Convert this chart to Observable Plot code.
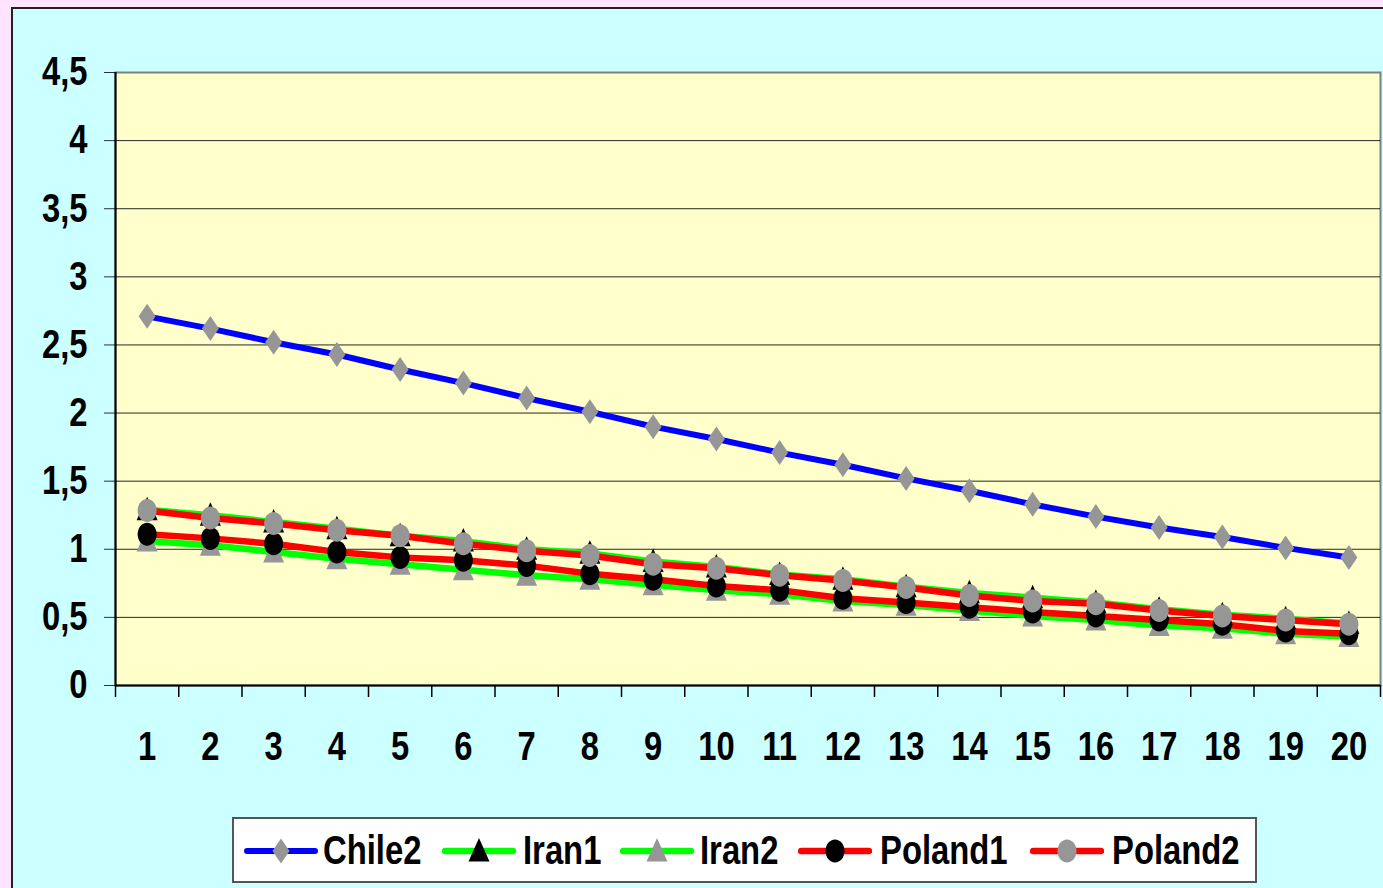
<!DOCTYPE html>
<html>
<head>
<meta charset="utf-8">
<script src="https://cdn.jsdelivr.net/npm/d3@7"></script>
<script src="https://cdn.jsdelivr.net/npm/@observablehq/plot@0.6"></script>
<style>
html, body { margin: 0; padding: 0; }
body {
  width: 1383px; height: 888px; background: #FFE3FF; position: relative; overflow: hidden;
  font-family: "Liberation Sans", Arial, sans-serif; font-weight: bold;
}
#frame {
  position: absolute; left: 11px; top: 7px; width: 1400px; height: 900px;
  background: #CCFFFF; border-left: 2px solid #222; border-top: 2px solid #222;
}
#chart { position: absolute; left: 0; top: 0; }
#legend {
  position: absolute; left: 232px; top: 817px; width: 1025px; height: 66px;
  background: #fff; border: 2px solid #555; box-sizing: border-box;
}
.sample { position: absolute; top: 16px; display: block; }
.label {
  position: absolute; top: 13px; font-size: 40px; line-height: 36px; color: #000;
  transform: scaleX(0.82); transform-origin: 0 50%; white-space: nowrap;
}
</style>
</head>
<body>
<div id="frame"></div>
<div id="chart"></div>
<div id="legend"></div>
<script>
// ---- data ----
const categories = [1, 2, 3, 4, 5, 6, 7, 8, 9, 10, 11, 12, 13, 14, 15, 16, 17, 18, 19, 20];
const categoryLabels = ["1","2","3","4","5","6","7","8","9","10","11","12","13","14","15","16","17","18","19","20"];
const categoryBoundaries = [0.5, 1.5, 2.5, 3.5, 4.5, 5.5, 6.5, 7.5, 8.5, 9.5, 10.5, 11.5, 12.5, 13.5, 14.5, 15.5, 16.5, 17.5, 18.5, 19.5, 20.5];
const yTicks = [0, 0.5, 1, 1.5, 2, 2.5, 3, 3.5, 4, 4.5];
const yTickLabels = ["0", "0,5", "1", "1,5", "2", "2,5", "3", "3,5", "4", "4,5"];

const seriesNames = ["Chile2", "Iran1", "Iran2", "Poland1", "Poland2"];
const chile2  = [2.71, 2.62, 2.52, 2.43, 2.32, 2.22, 2.11, 2.01, 1.90, 1.81, 1.71, 1.62, 1.52, 1.43, 1.33, 1.24, 1.16, 1.09, 1.01, 0.94];
const iran1   = [1.29, 1.25, 1.20, 1.15, 1.10, 1.06, 1.00, 0.97, 0.91, 0.87, 0.815, 0.78, 0.725, 0.68, 0.645, 0.61, 0.56, 0.52, 0.49, 0.455];
const iran2   = [1.06, 1.03, 0.98, 0.93, 0.89, 0.85, 0.81, 0.78, 0.74, 0.70, 0.67, 0.62, 0.59, 0.55, 0.51, 0.48, 0.44, 0.42, 0.38, 0.36];
const poland1 = [1.11, 1.08, 1.04, 0.98, 0.94, 0.92, 0.88, 0.82, 0.78, 0.73, 0.70, 0.64, 0.61, 0.575, 0.54, 0.51, 0.48, 0.45, 0.40, 0.38];
const poland2 = [1.285, 1.23, 1.19, 1.14, 1.10, 1.04, 0.99, 0.955, 0.89, 0.86, 0.81, 0.77, 0.72, 0.66, 0.62, 0.60, 0.55, 0.51, 0.48, 0.45];

// ---- marker shapes (Excel-like) ----
const tallDiamond = { draw(c) { c.moveTo(0, -12.5); c.lineTo(8.5, 0); c.lineTo(0, 12.5); c.lineTo(-8.5, 0); c.closePath(); } };
const triangle = { draw(c) { c.moveTo(0, -13); c.lineTo(10.5, 10.5); c.lineTo(-10.5, 10.5); c.closePath(); } };
const ellipse = { draw(c) {
  const rx = 9.5, ry = 11.5, k = 0.5523;
  c.moveTo(0, -ry);
  c.bezierCurveTo(rx * k, -ry, rx, -ry * k, rx, 0);
  c.bezierCurveTo(rx, ry * k, rx * k, ry, 0, ry);
  c.bezierCurveTo(-rx * k, ry, -rx, ry * k, -rx, 0);
  c.bezierCurveTo(-rx, -ry * k, -rx * k, -ry, 0, -ry);
  c.closePath();
} };

const series = [
  { name: "Chile2",  values: chile2,  line: "#0000FF", width: 6,   marker: tallDiamond, fill: "#969696", sx: 244, tx: 323 },
  { name: "Iran1",   values: iran1,   line: "#00FF00", width: 6.5, marker: triangle,    fill: "#000000", sx: 442, tx: 523 },
  { name: "Iran2",   values: iran2,   line: "#00FF00", width: 6.5, marker: triangle,    fill: "#969696", sx: 620, tx: 700 },
  { name: "Poland1", values: poland1, line: "#FF0000", width: 6.5, marker: ellipse,     fill: "#000000", sx: 798, tx: 880 },
  { name: "Poland2", values: poland2, line: "#FF0000", width: 6.5, marker: ellipse,     fill: "#969696", sx: 1030, tx: 1112 }
];
const rows = s => s.values.map((v, i) => ({ x: categories[i], y: v, series: s.name }));

const font = '"Liberation Sans", Arial, sans-serif';

const chart = Plot.plot({
  width: 1383,
  height: 800,
  marginLeft: 115,
  marginRight: 3,
  marginTop: 72,
  marginBottom: 115,
  x: { domain: [0.5, 20.5], axis: null, label: null },
  y: { domain: [0, 4.5], axis: null, label: null },
  style: { background: "transparent", fontFamily: font, fontWeight: "bold", fontSize: "40px", color: "#000", overflow: "visible" },
  marks: [
    Plot.frame({ fill: "#FFFFCC", stroke: "#808080", strokeWidth: 2 }),
    Plot.gridY(yTicks.slice(0, -1), { stroke: "#000", strokeOpacity: 0.85, strokeWidth: 1 }),
    Plot.axisY(yTicks, {
      label: null, tickSize: 11, tickPadding: 17, fontSize: 40,
      tickFormat: d => yTickLabels[yTicks.indexOf(d)],
      stroke: "#000", strokeOpacity: 0.8
    }),
    Plot.axisX(categoryBoundaries, { label: null, tickSize: 12, tickFormat: () => "", stroke: "#000", strokeWidth: 1.5 }),
    Plot.axisX(categories, {
      label: null, tickSize: 0, tickPadding: 46, fontSize: 40,
      tickFormat: d => categoryLabels[categories.indexOf(d)]
    }),
    Plot.ruleX([0.5], { stroke: "#000", strokeWidth: 2 }),
    Plot.ruleY([0], { stroke: "#000", strokeWidth: 2 }),
    ...series.map(s => Plot.line(rows(s), { x: "x", y: "y", stroke: s.line, strokeWidth: s.width, strokeLinejoin: "round" })),
    ...series.map(s => Plot.dot(rows(s), { x: "x", y: "y", symbol: s.marker, fill: s.fill, stroke: "none", r: 5 }))
  ]
});
document.getElementById("chart").appendChild(chart);

// narrow the bold digits like the original's condensed type, scaling around each text's anchor
chart.querySelectorAll("text").forEach(t => {
  if (!t.textContent) return;
  const tr = t.getAttribute("transform");
  if (tr && /translate/.test(tr)) {
    t.setAttribute("transform", tr + " scale(0.82,1)");
  } else {
    const x = +(t.getAttribute("x") || 0), y = +(t.getAttribute("y") || 0);
    t.setAttribute("x", 0); t.setAttribute("y", 0);
    t.setAttribute("transform", `${tr || ""} translate(${x},${y}) scale(0.82,1)`);
  }
});

// ---- legend ----
const legend = document.getElementById("legend");
const legendLeft = 232;
for (const s of series) {
  const svg = d3.create("svg").attr("class", "sample").attr("width", 74).attr("height", 32)
    .style("left", (s.sx - legendLeft - 2) + "px");
  svg.append("line").attr("x1", 3).attr("x2", 71).attr("y1", 16).attr("y2", 16)
    .attr("stroke", s.line).attr("stroke-width", s.width).attr("stroke-linecap", "round");
  svg.append("path").attr("transform", "translate(37,16)")
    .attr("d", d3.symbol(s.marker)()).attr("fill", s.fill);
  legend.appendChild(svg.node());
  const span = document.createElement("div");
  span.className = "label";
  span.style.left = (s.tx - legendLeft - 2) + "px";
  span.textContent = s.name;
  legend.appendChild(span);
}
</script>
</body>
</html>
